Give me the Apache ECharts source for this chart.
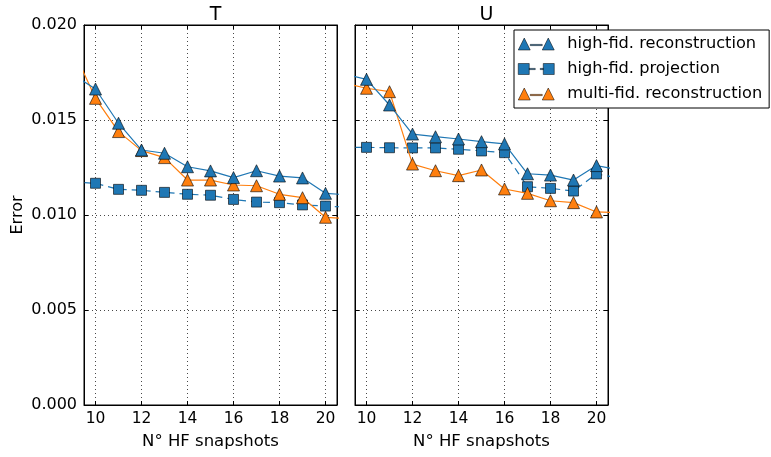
<!DOCTYPE html>
<html>
<head>
<meta charset="utf-8">
<script src="https://cdn.jsdelivr.net/npm/echarts@6/dist/echarts.min.js"></script>
<style>html,body{margin:0;padding:0;background:#fff;}#c{width:771px;height:457px;}</style>
</head>
<body>
<div id="c"></div>
<script>
// Number of HF snapshots (9 and 21 only carry the line to the panel edges)
const snapshots = [9, 10, 11, 12, 13, 14, 15, 16, 17, 18, 19, 20, 21];
const xTicks = [10, 12, 14, 16, 18, 20];
const yTicks = [0, 0.005, 0.01, 0.015, 0.02];
const panelTitles = ['T', 'U'];
const seriesNames = ['high-fid. reconstruction', 'high-fid. projection', 'multi-fid. reconstruction'];

// Panel T
const T_hfRecon = [0.01740, 0.01663, 0.01483, 0.01342, 0.01325, 0.01254, 0.01232, 0.01197, 0.01233, 0.01205, 0.01195, 0.01114, 0.01106];
const T_hfProj  = [0.01173, 0.01167, 0.01135, 0.01130, 0.01119, 0.01109, 0.01104, 0.01082, 0.01068, 0.01065, 0.01053, 0.01047, 0.01041];
const T_mfRecon = [0.01878, 0.01614, 0.01439, 0.01339, 0.01302, 0.01184, 0.01184, 0.01158, 0.01154, 0.01109, 0.01091, 0.00988, 0.00980];
// Panel U
const U_hfRecon = [0.01742, 0.01714, 0.01579, 0.01426, 0.01412, 0.01400, 0.01386, 0.01374, 0.01217, 0.01210, 0.01184, 0.01260, 0.01238];
const U_hfProj  = [0.01356, 0.01356, 0.01354, 0.01353, 0.01353, 0.01346, 0.01337, 0.01328, 0.01149, 0.01140, 0.01126, 0.01216, 0.01194];
const U_mfRecon = [0.01695, 0.01667, 0.01649, 0.01268, 0.01233, 0.01207, 0.01237, 0.01137, 0.01114, 0.01075, 0.01065, 0.01016, 0.01012];

const panelData = [[T_hfRecon, T_hfProj, T_mfRecon], [U_hfRecon, U_hfProj, U_mfRecon]];
const colors = ['#1f77b4', '#1f77b4', '#ff7f0e'];
const symbols = ['triangle', 'rect', 'triangle'];
const dashes = ['solid', [7, 5], 'solid'];

const FONT = 'DejaVu Sans';
const grids = [
  {left: 84, top: 25, width: 253, height: 380},
  {left: 355, top: 25, width: 253, height: 380}
];
grids.forEach(g => { g.show = true; g.borderColor = '#000'; g.borderWidth = 1; g.backgroundColor = '#fff'; });

const xAxes = [], yAxes = [], series = [];
const tickStyle = {show: true, inside: true, length: 4, lineStyle: {color: '#000', width: 1}};
const dotted = {show: true, lineStyle: {color: '#000', width: 0.8, type: [1, 3], opacity: 0.9}};
for (let p = 0; p < 2; p++) {
  xAxes.push({
    gridIndex: p, type: 'value', position: 'bottom', min: 9.5, max: 20.5,
    axisLine: {show: true, onZero: false, lineStyle: {color: '#000', width: 1}},
    axisTick: Object.assign({customValues: xTicks}, tickStyle),
    axisLabel: {customValues: xTicks, color: '#000', fontFamily: FONT, fontSize: 15.5, margin: 6},
    splitLine: dotted,
    name: 'N° HF snapshots', nameLocation: 'middle', nameGap: 28,
    nameTextStyle: {color: '#000', fontFamily: FONT, fontSize: 16.5}
  });
  xAxes.push({
    gridIndex: p, type: 'value', position: 'top', min: 9.5, max: 20.5,
    axisLine: {show: true, onZero: false, lineStyle: {color: '#000', width: 1}},
    axisTick: Object.assign({customValues: xTicks}, tickStyle),
    axisLabel: {show: false, customValues: xTicks},
    splitLine: {show: false}
  });
  yAxes.push({
    gridIndex: p, type: 'value', position: 'left', min: 0, max: 0.02, interval: 0.005,
    axisLine: {show: true, onZero: false, lineStyle: {color: '#000', width: 1}},
    axisTick: tickStyle,
    axisLabel: {show: p === 0, color: '#000', fontFamily: FONT, fontSize: 16, margin: 7,
      formatter: v => v.toFixed(3)},
    splitLine: dotted,
    name: p === 0 ? 'Error' : '', nameLocation: 'middle', nameGap: 58,
    nameTextStyle: {color: '#000', fontFamily: FONT, fontSize: 16}
  });
  yAxes.push({
    gridIndex: p, type: 'value', position: 'right', min: 0, max: 0.02, interval: 0.005,
    axisLine: {show: true, onZero: false, lineStyle: {color: '#000', width: 1}},
    axisTick: tickStyle,
    axisLabel: {show: false},
    splitLine: {show: false}
  });
  for (let s = 0; s < 3; s++) {
    series.push({
      type: 'line', name: seriesNames[s],
      xAxisIndex: p * 2, yAxisIndex: p * 2,
      data: snapshots.map((x, i) => [x, panelData[p][s][i]]),
      clip: true, animation: false,
      symbol: symbols[s], symbolSize: s === 1 ? 10 : 12,
      showAllSymbol: true,
      color: colors[s],
      lineStyle: {color: colors[s], width: 1.2, type: dashes[s]},
      itemStyle: {color: colors[s], borderColor: '#000', borderWidth: 0.6},
      z: s === 1 ? 2 : (s === 0 ? 4 : 3),
      emphasis: {disabled: true}
    });
  }
}

const triIcon = 'path://M0,12L6,0L12,12ZM24,12L30,0L36,12ZM12,6.4L24,6.4L24,7.6L12,7.6Z';
const sqIcon = 'path://M0,0.5L11,0.5L11,11.5L0,11.5ZM25,0.5L36,0.5L36,11.5L25,11.5ZM11,5.4L17,5.4L17,6.6L11,6.6ZM22,5.4L25,5.4L25,6.6L22,6.6Z';

const chart = echarts.init(document.getElementById('c'), null, {renderer: 'canvas'});
chart.setOption({
  animation: false,
  backgroundColor: '#fff',
  title: panelTitles.map((t, i) => ({
    text: t, left: grids[i].left + grids[i].width / 2, top: 1, textAlign: 'center',
    textStyle: {color: '#000', fontFamily: FONT, fontSize: 19, fontWeight: 'normal'}
  })),
  legend: {
    orient: 'vertical', left: 514, top: 30,
    padding: [6, 7, 6, 4], itemGap: 9, itemWidth: 36, itemHeight: 12,
    backgroundColor: '#fff', borderColor: '#000', borderWidth: 1, borderRadius: 0,
    selectedMode: false,
    itemStyle: {borderColor: '#000', borderWidth: 0.5},
    textStyle: {color: '#000', fontFamily: FONT, fontSize: 16.2, padding: [0, 0, 0, 8]},
    data: [
      {name: seriesNames[0], icon: triIcon},
      {name: seriesNames[1], icon: sqIcon},
      {name: seriesNames[2], icon: triIcon}
    ],
    z: 10
  },
  grid: grids,
  xAxis: xAxes,
  yAxis: yAxes,
  series: series
});
</script>
</body>
</html>
